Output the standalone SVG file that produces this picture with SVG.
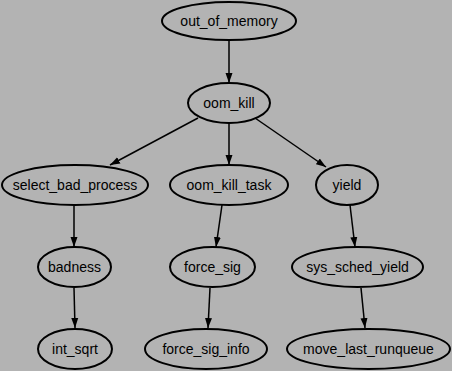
<svg xmlns="http://www.w3.org/2000/svg" width="452" height="371" viewBox="0 0 452 371">
<style>
ellipse{fill:none;stroke:#000;stroke-width:2}
text{font-family:"Liberation Sans",Arial,sans-serif;font-size:14px;fill:#000;text-anchor:middle}
.e line{stroke:#000;stroke-width:1.5}
</style>
<defs>
<marker id="a" markerWidth="10" markerHeight="8" refX="10" refY="4" orient="auto" markerUnits="userSpaceOnUse">
<path d="M0,0.5 L10,4 L0,7.5 z" fill="#000"/>
</marker>
</defs>
<rect width="452" height="371" fill="#b3b3b3"/>
<g class="e">
<line x1="229" y1="40" x2="229" y2="83" marker-end="url(#a)"/>
<line x1="198" y1="118" x2="110" y2="165" marker-end="url(#a)"/>
<line x1="229" y1="123" x2="229" y2="165" marker-end="url(#a)"/>
<line x1="255" y1="118" x2="326" y2="167" marker-end="url(#a)"/>
<line x1="74" y1="205" x2="74" y2="247" marker-end="url(#a)"/>
<line x1="222" y1="205" x2="216" y2="247" marker-end="url(#a)"/>
<line x1="350" y1="205" x2="355" y2="247" marker-end="url(#a)"/>
<line x1="74" y1="288" x2="75" y2="328" marker-end="url(#a)"/>
<line x1="210" y1="288" x2="208" y2="328" marker-end="url(#a)"/>
<line x1="361" y1="288" x2="365" y2="328" marker-end="url(#a)"/>
</g>
<g id="out_of_memory"><ellipse cx="229" cy="21" rx="67" ry="19"/><text x="229" y="26">out_of_memory</text></g>
<g id="oom_kill"><ellipse cx="229" cy="103" rx="41" ry="20"/><text x="229" y="108">oom_kill</text></g>
<g id="select_bad_process"><ellipse cx="75" cy="185" rx="73" ry="20"/><text x="75" y="190">select_bad_process</text></g>
<g id="oom_kill_task"><ellipse cx="229" cy="185" rx="59" ry="20"/><text x="229" y="190">oom_kill_task</text></g>
<g id="yield"><ellipse cx="347" cy="185" rx="31" ry="20"/><text x="347" y="190">yield</text></g>
<g id="badness"><ellipse cx="74.5" cy="267" rx="36.5" ry="20"/><text x="74.5" y="272">badness</text></g>
<g id="force_sig"><ellipse cx="212.5" cy="267" rx="42.5" ry="20"/><text x="212.5" y="272">force_sig</text></g>
<g id="sys_sched_yield"><ellipse cx="357.5" cy="267" rx="65.5" ry="20"/><text x="357.5" y="272">sys_sched_yield</text></g>
<g id="int_sqrt"><ellipse cx="75" cy="349" rx="37" ry="20"/><text x="75" y="354">int_sqrt</text></g>
<g id="force_sig_info"><ellipse cx="206" cy="349" rx="61" ry="20"/><text x="206" y="354">force_sig_info</text></g>
<g id="move_last_runqueue"><ellipse cx="368.5" cy="349" rx="81.5" ry="20"/><text x="368.5" y="354">move_last_runqueue</text></g>
</svg>
